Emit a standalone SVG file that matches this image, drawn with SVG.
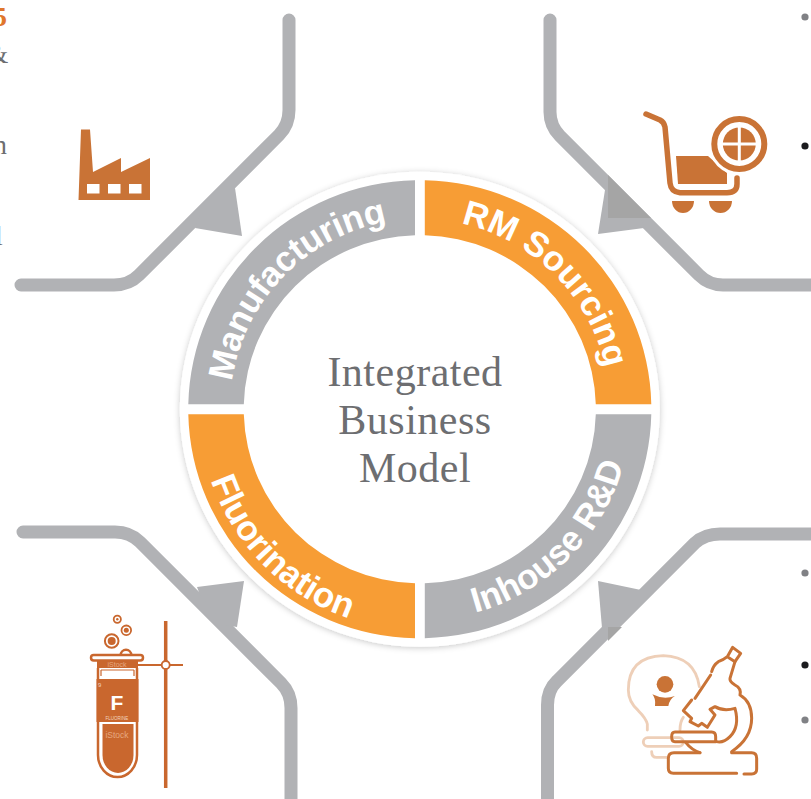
<svg xmlns="http://www.w3.org/2000/svg" width="811" height="799" viewBox="0 0 811 799">
<defs>
<filter id="soft" x="-10%" y="-10%" width="120%" height="120%"><feDropShadow dx="0" dy="1" stdDeviation="3" flood-color="#000" flood-opacity=".22"/></filter>
<path id="arcTL" d="M230 409A190 190 0 0 1 420 219"/>
<path id="arcTR" d="M420 219A190 190 0 0 1 610 409"/>
<path id="arcBL" d="M199 409A221 221 0 0 0 420 630"/>
<path id="arcBR" d="M420 620A211 211 0 0 0 631 409"/>
</defs>
<style>
.conn{fill:none;stroke:#b1b2b5;stroke-width:13;stroke-linecap:round}
.head{fill:#b1b2b5}
.dark{fill:#a5a5a5}
.seg-g{fill:#b1b2b5}
.seg-o{fill:#f79d35}
.lab{font:bold 35px "Liberation Sans",Arial,sans-serif;fill:#fff;text-anchor:middle}
.mid{font:42px "Liberation Serif","Times New Roman",serif;fill:#6d6e71;text-anchor:middle;letter-spacing:.5px}
.frag{font:28px "Liberation Serif","Times New Roman",serif;fill:#6d6e71}
.ic{fill:#c97336}
.ln{fill:none;stroke:#c97336;stroke-linecap:round;stroke-linejoin:round}
.pale{fill:none;stroke:#eecfb8;stroke-width:8.500;stroke-linecap:round;stroke-linejoin:round}
.tb{fill:none;stroke:#c9672e}
</style>
<rect width="811" height="799" fill="#fff"/>
<g id="connectors">
<path class="conn" d="M289 20V110Q289 125 279 135L139 275Q129 285 114 285H21"/>
<path class="head" d="M235 188L242 236L195 228L200 215L225 190Z"/>
<path class="conn" d="M550 20V112Q550 126 560 136L699 275Q709 285 723 285H818"/>
<path class="head" d="M605 190L598 234L644 228L640 215L610 185Z"/>
<path class="dark" d="M608 175V218H651Z"/>
<path class="conn" d="M23 532H115Q130 532 140 542L281 683Q291 693 291 708V806"/>
<path class="head" d="M197 587L244 581L237 627L225 625L200 595Z"/>
<path class="conn" d="M818 534H720Q705 534 695 543L557 681Q547.5 690 547.5 705V806"/>
<path class="head" d="M598 581L641 590L625 610L608 628L602 628Z"/>
<path class="dark" d="M608 627H622L608 641Z"/>
</g>
<g id="fragments">
<text x="-7" y="26" style="font:bold 28px 'Liberation Serif',serif;fill:#e0762c">5</text>
<text x="-13.500" y="63" class="frag">&amp;</text>
<text x="-7" y="154" class="frag">n</text>
<text x="-5" y="245" class="frag">l</text>
<circle cx="805" cy="17" r="3.600" fill="#808185"/>
<circle cx="805" cy="146" r="3.600" fill="#1c1c1e"/>
<circle cx="805" cy="573" r="3.600" fill="#808185"/>
<circle cx="805" cy="665" r="3.600" fill="#1c1c1e"/>
<circle cx="805" cy="720" r="3.600" fill="#808185"/>
</g>
<g id="hub">
<ellipse cx="419.800" cy="409.200" rx="240" ry="237.500" fill="#fff" filter="url(#soft)"/>
<text class="mid"><tspan x="415" y="385.500">Integrated</tspan><tspan x="415" y="433.500">Business</tspan><tspan x="415" y="481.500">Model</tspan></text>
</g>
<g id="manufacturing">
<path class="seg-g" d="M188.300 404.300A231.500 229 0 0 1 415 180.200V235.200A176 174 0 0 0 243.800 404.300Z"/>
<text class="lab" letter-spacing="-.3"><textPath href="#arcTL" startOffset="49%">Manufacturing</textPath></text>
</g>
<g id="rm-sourcing">
<path class="seg-o" d="M424.800 180.200A231.500 229 0 0 1 651.300 404.300H595.800A176 174 0 0 0 424.800 235.200Z"/>
<text class="lab"><textPath href="#arcTR" startOffset="50%">RM Sourcing</textPath></text>
</g>
<g id="inhouse-rd">
<path class="seg-g" d="M651.300 414.300A231.500 229 0 0 1 424.800 638.200V583.200A176 174 0 0 0 595.800 414.300Z"/>
<text class="lab"><textPath href="#arcBR" startOffset="50%">Inhouse R&amp;D</textPath></text>
</g>
<g id="fluorination">
<path class="seg-o" d="M415 638.200A231.500 229 0 0 1 188.300 414.300H243.800A176 174 0 0 0 415 583.200Z"/>
<text class="lab"><textPath href="#arcBL" startOffset="50%">Fluorination</textPath></text>
</g>
<g id="icon-factory">
<path class="ic" d="M78.500 200L81 129.500H90L93 172L121 158V172L150 158V200Z"/>
<path fill="#fff" d="M87 184h12.500v9.500H87zM108 184h12.500v9.500H108zM129 184h12.500v9.500H129z"/>
</g>
<g id="icon-cart">
<path class="ln" stroke-width="5.500" d="M646 114L660 120Q664 122 665 127L670 183Q671 192 680 192.700H727Q737 192.700 737 184V178"/>
<path class="ic" d="M676 156H708L727 173V184H678Z"/>
<path class="ic" d="M672 201H694A11 12 0 0 1 672 201ZM709 201H732A11.500 12 0 0 1 709 201Z"/>
<circle cx="739.300" cy="144" r="31" fill="#fff"/>
<circle cx="739.300" cy="144" r="25" fill="none" stroke="#c97336" stroke-width="6"/>
<circle class="ic" cx="739.300" cy="144" r="16.500"/>
<path d="M739.300 127V161M722 144H756" stroke="#fff" stroke-width="3" fill="none"/>
</g>
<g id="icon-fluorine">
<circle class="tb" cx="117.300" cy="619.300" r="3.600" stroke-width="1.800"/><circle cx="117.300" cy="619.300" r="1.200" fill="#c9672e"/>
<circle class="tb" cx="126.300" cy="630.300" r="4.800" stroke-width="1.800"/><circle cx="126.300" cy="630.300" r="2.500" fill="#c9672e"/>
<circle class="tb" cx="111.700" cy="641" r="6.800" stroke-width="2"/><circle cx="111.700" cy="641" r="4" fill="#c9672e"/>
<path fill="#c9672e" d="M119.500 655A6.300 6.300 0 0 1 132.500 655H130A4 4 0 0 0 122 655Z"/>
<path class="tb" stroke-width="3.500" d="M165.700 621V788"/>
<path class="tb" stroke-width="2.200" d="M138 665H162M170 665H183" />
<rect x="91" y="655" width="52" height="5.500" rx="2.700" fill="#fff" stroke="#c9672e" stroke-width="2.500"/>
<path fill="#c9672e" d="M97 661H138V668H97Z"/>
<path fill="none" stroke="#c9672e" stroke-width="2.500" d="M98 668V755A19.500 22 0 0 0 137 755V668"/>
<path fill="none" stroke="#c9672e" stroke-width="1.200" d="M101 670H134M101 670V676M134 670V676"/>
<path fill="#c9672e" d="M96.500 679H138.500V722H96.500Z"/>
<path fill="#c9672e" d="M102.500 724H133.500V755A15.500 18 0 0 1 102.500 755Z"/>
<circle cx="165.700" cy="665" r="4" fill="#fff" stroke="#c9672e" stroke-width="1.800"/>
<text x="98" y="687" style="font:6px 'Liberation Sans',sans-serif;fill:#f3d5bf">9</text>
<text x="117" y="710" text-anchor="middle" style="font:bold 21px 'Liberation Sans',sans-serif;fill:#fff">F</text>
<text x="117" y="720" text-anchor="middle" style="font:4.500px 'Liberation Sans',sans-serif;fill:#f3d5bf">FLUORINE</text>
<text x="117" y="667" text-anchor="middle" style="font:7px 'Liberation Sans',sans-serif;fill:#e7a880">iStock</text>
<text x="117" y="738" text-anchor="middle" style="font:8.500px 'Liberation Sans',sans-serif;fill:#e7a880">iStock</text>
</g>
<g id="icon-rd" transform="translate(620 640) scale(.3333)">
<path class="pale" d="M82 270V252Q78 235 55 212Q25 185 25 150Q25 50 130 47Q225 50 238 140M190 232Q180 245 180 270"/>
<rect class="pale" x="70" y="293" width="120" height="26" rx="13"/>
<path class="pale" d="M95 335Q95 352 110 352H140"/>
<circle class="ic" cx="135" cy="133" r="25"/>
<path class="ic" d="M97 163Q130 180 165 168Q148 178 145 198H105Q108 175 97 163Z"/>
<g class="ln" stroke-width="9">
<path d="M350 400H160Q145 400 145 385V355Q145 338 162 338H240"/>
<path d="M335 338H395Q410 338 410 355V388Q410 402 395 402H372"/>
<path d="M165 276H275Q287 276 287 290V305H165Q155 305 155 290Q155 276 165 276Z"/>
<path d="M197 307Q215 330 240 338"/>
<path d="M335 335Q395 295 395 235Q395 185 360 165Q365 145 345 135Q328 125 330 115L345 65"/>
<path d="M322 50L338 22L362 40L345 65L322 50Q310 60 295 65Q280 75 275 95"/>
<path d="M272 105L225 175"/>
<path d="M215 180L190 212L215 235L210 245L235 258L245 250L262 262L285 225L270 208L285 200Q310 215 345 205Q360 260 330 290Q310 310 290 305"/>
</g>
</g>
</svg>
